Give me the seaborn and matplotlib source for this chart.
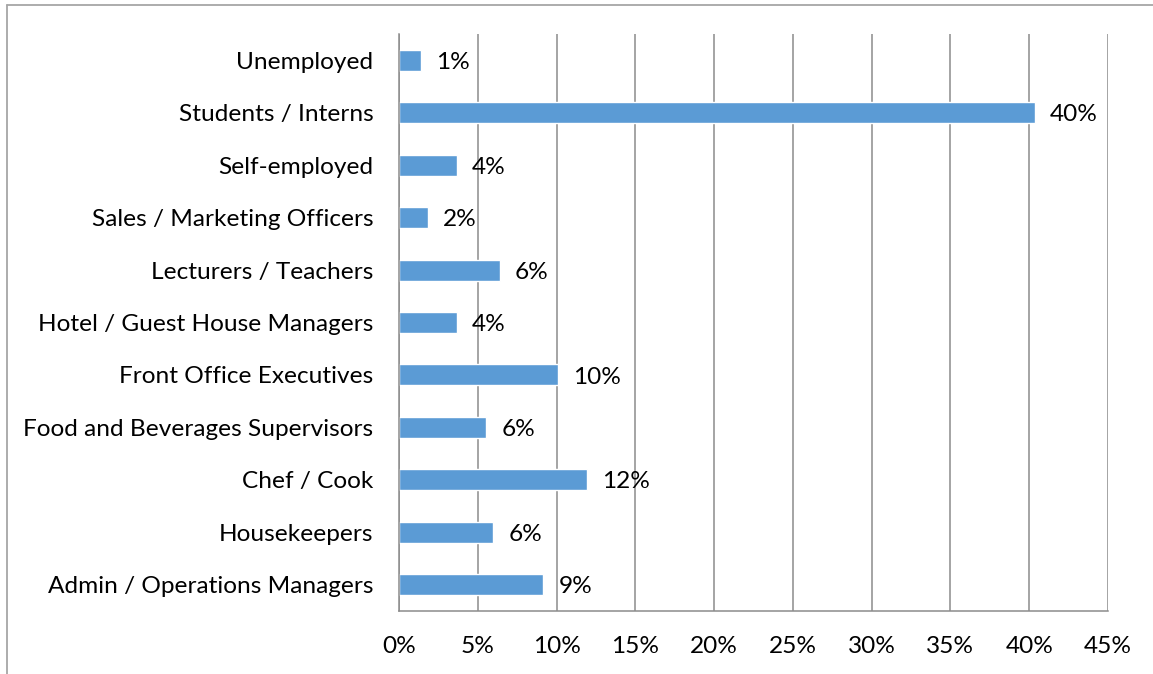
import matplotlib
matplotlib.use("Agg")
import matplotlib.pyplot as plt
from matplotlib.lines import Line2D
from matplotlib.ticker import FuncFormatter
import seaborn as sns
import pandas as pd

# Current occupation of respondents (share of respondents, %)
categories = [
    "Unemployed",
    "Students / Interns",
    "Self-employed",
    "Sales / Marketing Officers",
    "Lecturers / Teachers",
    "Hotel / Guest House Managers",
    "Front Office Executives",
    "Food and Beverages Supervisors",
    "Chef / Cook",
    "Housekeepers",
    "Admin / Operations Managers",
]
shares = [1.38, 40.35, 3.66, 1.84, 6.40, 3.66, 10.08, 5.52, 11.92, 5.96, 9.17]
x_ticks = [0, 5, 10, 15, 20, 25, 30, 35, 40, 45]

df = pd.DataFrame({"occupation": categories, "share": shares})

sns.set_style("white")
plt.rcParams["font.family"] = ["Lato", "DejaVu Sans"]

BAR = "#5B9BD5"
GRID = "#8C8C8C"
TEXT = "#000000"
FS = 17.6

fig = plt.figure(figsize=(11.53, 6.74), dpi=100)
ax = fig.add_axes([399 / 1153, 1 - 611 / 674, (1108 - 399) / 1153, (611 - 34) / 674])

sns.barplot(data=df, x="share", y="occupation", order=categories,
            color=BAR, saturation=1, width=0.4, ax=ax, orient="h")

ax.set_xlim(0, 45)
ax.set_ylim(len(categories) - 0.5, -0.5)
ax.set_xticks(x_ticks)
ax.xaxis.set_major_formatter(FuncFormatter(lambda v, _: f"{v:.0f}%"))
ax.set_xlabel("")
ax.set_ylabel("")

ax.grid(axis="x", color=GRID, linewidth=1.1)
ax.grid(axis="y", visible=False)
ax.set_axisbelow(True)

for side in ["top", "right"]:
    ax.spines[side].set_visible(False)
for side in ["left", "bottom"]:
    ax.spines[side].set_color(GRID)
    ax.spines[side].set_linewidth(1.1)

ax.tick_params(axis="y", length=0, pad=18.5, labelsize=FS, colors=TEXT)
ax.tick_params(axis="x", length=0, pad=18, labelsize=FS, colors=TEXT)

labels = ax.bar_label(ax.containers[0], labels=[f"{v:.0f}%" for v in shares],
                      padding=11, fontsize=FS, color=TEXT)
for t in labels:
    t.xyann = (t.xyann[0], -1.5)

# chart area border (top and left edges)
fig.add_artist(Line2D([7 / 1153, 1.0], [1 - 5 / 674, 1 - 5 / 674],
                      transform=fig.transFigure, color="#A6A6A6", linewidth=1.3))
fig.add_artist(Line2D([7 / 1153, 7 / 1153], [0.0, 1 - 5 / 674],
                      transform=fig.transFigure, color="#A6A6A6", linewidth=1.3))

fig.savefig("out.png", dpi=100, facecolor="white")
